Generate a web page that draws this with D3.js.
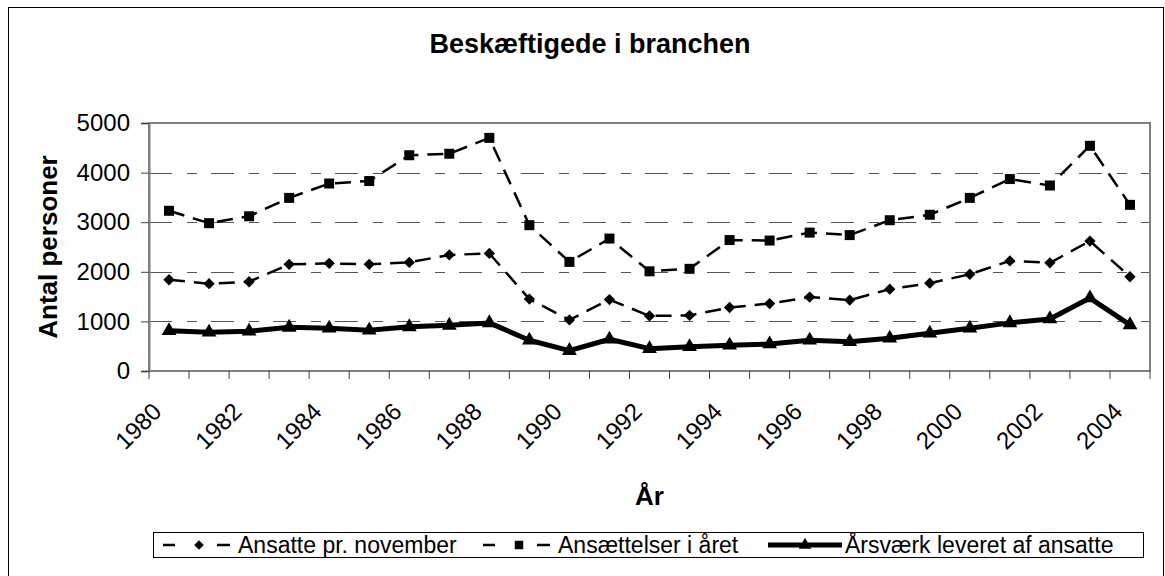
<!DOCTYPE html>
<html>
<head>
<meta charset="utf-8">
<script src="https://cdn.jsdelivr.net/npm/d3@7"></script>
<style>
  body { margin: 0; background: #fff; }
  text { font-family: Arial, "Liberation Sans", sans-serif; fill: #000; }
</style>
</head>
<body>
<div id="chart"></div>
<script>
// data
var years = [1980, 1981, 1982, 1983, 1984, 1985, 1986, 1987, 1988, 1989, 1990, 1991, 1992,
  1993, 1994, 1995, 1996, 1997, 1998, 1999, 2000, 2001, 2002, 2003, 2004];
var ansatte = [1840, 1760, 1800, 2150, 2170, 2150, 2190, 2340, 2370, 1450, 1030, 1440, 1110,
  1120, 1280, 1360, 1490, 1430, 1650, 1770, 1950, 2220, 2180, 2620, 1900];
var ansaettelser = [3230, 2980, 3120, 3490, 3780, 3830, 4350, 4380, 4700, 2940, 2200, 2670, 2010,
  2060, 2640, 2630, 2790, 2740, 3040, 3150, 3490, 3870, 3740, 4540, 3350];
var aarsvaerk = [810, 780, 800, 880, 860, 820, 890, 920, 970, 620, 410, 640, 450,
  490, 520, 545, 620, 590, 660, 760, 860, 970, 1050, 1470, 930];
var yTicks = [0, 1000, 2000, 3000, 4000, 5000];
var seriesNames = ["Ansatte pr. november", "Ansættelser i året", "Årsværk leveret af ansatte"];

var svgWidth = 1165;
var svgHeight = 576;
var plot = { left: 149, right: 1150, top: 123, bottom: 371 };

var svg = d3.select("#chart")
  .append("svg")
  .attr("width", svgWidth)
  .attr("height", svgHeight);

// outer chart border
svg.append("rect")
  .attr("x", 8.5).attr("y", 7.5)
  .attr("width", 1155).attr("height", 580)
  .attr("fill", "none")
  .attr("stroke", "#000")
  .attr("stroke-width", 1);

var x = d3.scaleBand()
  .domain(years)
  .range([plot.left, plot.right])
  .padding(0);

var y = d3.scaleLinear()
  .domain([0, 5000])
  .range([plot.bottom, plot.top]);

var cx = d => x(d) + x.bandwidth() / 2;

// title
svg.append("text")
  .attr("x", 590)
  .attr("y", 53)
  .attr("text-anchor", "middle")
  .attr("font-size", 27)
  .attr("font-weight", "bold")
  .text("Beskæftigede i branchen");

// gridlines
svg.append("g")
  .selectAll("line")
  .data(yTicks.filter(d => d > 0 && d < 5000))
  .enter()
  .append("line")
  .attr("x1", plot.left)
  .attr("x2", plot.right)
  .attr("y1", d => Math.round(y(d)) + 0.5)
  .attr("y2", d => Math.round(y(d)) + 0.5)
  .attr("stroke", "#555")
  .attr("stroke-width", 1)
  .attr("stroke-dasharray", "23,15,10,14");

// plot area frame
svg.append("rect")
  .attr("x", plot.left)
  .attr("y", plot.top)
  .attr("width", plot.right - plot.left)
  .attr("height", plot.bottom - plot.top)
  .attr("fill", "none")
  .attr("stroke", "#808080")
  .attr("stroke-width", 2);

// y axis
var leftAxis = d3.axisLeft(y)
  .tickValues(yTicks)
  .tickFormat(d3.format("d"))
  .tickSize(8)
  .tickPadding(11);

var yAxis = svg.append("g")
  .attr("transform", `translate(${plot.left}, 0)`)
  .call(leftAxis);
yAxis.select(".domain").attr("stroke", "#808080").attr("stroke-width", 2);
yAxis.selectAll(".tick line").attr("stroke", "#404040");
yAxis.selectAll("text")
  .attr("font-size", 24)
  .attr("font-family", "Arial, 'Liberation Sans', sans-serif")
  .attr("fill", "#000");

// x axis: ticks on category boundaries, labels every second year
var xAxis = svg.append("g");
xAxis.append("line")
  .attr("x1", plot.left).attr("x2", plot.right)
  .attr("y1", plot.bottom).attr("y2", plot.bottom)
  .attr("stroke", "#808080")
  .attr("stroke-width", 2);

xAxis.selectAll(".bound")
  .data(years.concat(["end"]))
  .enter()
  .append("line")
  .attr("class", "bound")
  .attr("x1", d => d === "end" ? plot.right : x(d))
  .attr("x2", d => d === "end" ? plot.right : x(d))
  .attr("y1", plot.bottom)
  .attr("y2", plot.bottom + 8)
  .attr("stroke", "#404040")
  .attr("stroke-width", 1);

xAxis.selectAll(".xlabel")
  .data(years.filter(d => d % 2 === 0))
  .enter()
  .append("text")
  .attr("class", "xlabel")
  .attr("transform", d => `translate(${cx(d) - 6}, ${plot.bottom + 42}) rotate(-45)`)
  .attr("text-anchor", "end")
  .attr("font-size", 24)
  .text(d => d);

// axis titles
svg.append("text")
  .attr("transform", `translate(57, ${(plot.top + plot.bottom) / 2}) rotate(-90)`)
  .attr("text-anchor", "middle")
  .attr("font-size", 26)
  .attr("font-weight", "bold")
  .text("Antal personer");

svg.append("text")
  .attr("x", (plot.left + plot.right) / 2)
  .attr("y", 505)
  .attr("text-anchor", "middle")
  .attr("font-size", 26)
  .attr("font-weight", "bold")
  .text("År");

// series
var series = [
  { name: seriesNames[0], values: ansatte, dash: "16,9", width: 2.5, shape: "diamond" },
  { name: seriesNames[1], values: ansaettelser, dash: "16,9", width: 2.5, shape: "square" },
  { name: seriesNames[2], values: aarsvaerk, dash: null, width: 5, shape: "triangle" }
];

var markerPath = {
  diamond: d3.symbol().type(d3.symbolSquare).size(64)(),
  square: d3.symbol().type(d3.symbolSquare).size(100)(),
  triangle: d3.symbol().type(d3.symbolTriangle).size(95)()
};
var markerRotate = { diamond: 45, square: 0, triangle: 0 };

var line = d3.line()
  .x(d => cx(d.year))
  .y(d => y(d.value));

series.forEach(function(s) {
  var pts = years.map((yr, i) => ({ year: yr, value: s.values[i] }));

  svg.append("path")
    .datum(pts)
    .attr("d", line)
    .attr("fill", "none")
    .attr("stroke", "#000")
    .attr("stroke-width", s.width)
    .attr("stroke-linejoin", "round")
    .attr("stroke-dasharray", s.dash);

  svg.append("g")
    .selectAll("path")
    .data(pts)
    .enter()
    .append("path")
    .attr("d", markerPath[s.shape])
    .attr("transform", d => `translate(${cx(d.year)}, ${y(d.value)}) rotate(${markerRotate[s.shape]})`)
    .attr("fill", "#000");
});

// legend
var legend = svg.append("g");
legend.append("rect")
  .attr("x", 153.5).attr("y", 532.5)
  .attr("width", 990).attr("height", 25)
  .attr("fill", "#fff")
  .attr("stroke", "#000")
  .attr("stroke-width", 1);

var legendX = [163, 483, 768];
series.forEach(function(s, i) {
  var g = legend.append("g").attr("transform", `translate(${legendX[i]}, 545)`);
  if (s.dash) {
    g.append("line").attr("x1", 0).attr("x2", 12).attr("y1", 0).attr("y2", 0)
      .attr("stroke", "#000").attr("stroke-width", 2.5);
    g.append("line").attr("x1", 54).attr("x2", 67).attr("y1", 0).attr("y2", 0)
      .attr("stroke", "#000").attr("stroke-width", 2.5);
  } else {
    g.append("line").attr("x1", 0).attr("x2", 74).attr("y1", 0).attr("y2", 0)
      .attr("stroke", "#000").attr("stroke-width", 5);
  }
  g.append("path")
    .attr("d", markerPath[s.shape])
    .attr("transform", `translate(${s.dash ? 36 : 37}, 0) rotate(${markerRotate[s.shape]}) scale(0.85)`)
    .attr("fill", "#000");
  g.append("text")
    .attr("x", s.dash ? 75 : 77)
    .attr("y", 8)
    .attr("font-size", 23)
    .text(s.name);
});
</script>
</body>
</html>
